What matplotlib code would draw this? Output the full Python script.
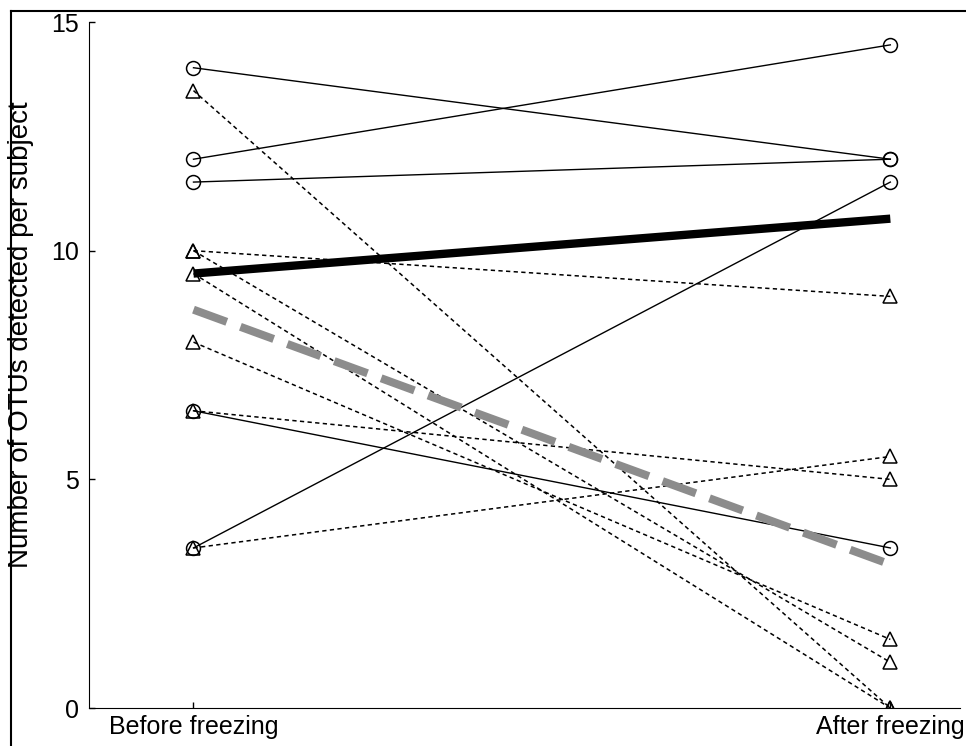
import matplotlib.pyplot as plt
from matplotlib.lines import Line2D

plt.rcParams["font.family"] = ["Liberation Sans", "DejaVu Sans"]

# stages on the x axis
stages = ["Before freezing", "After freezing"]
stage_x = [1, 2]

# subjects shown with circles (solid lines): (before, after)
circle_before = [14, 12, 11.5, 6.5, 3.5]
circle_after = [12, 14.5, 12, 3.5, 11.5]

# subjects shown with triangles (dotted lines): (before, after)
tri_before = [13.5, 10, 10, 9.5, 8, 6.5, 3.5]
tri_after = [0, 9, 1, 0, 1.5, 5, 5.5]

# group means
circle_mean = [9.5, 10.7]
tri_mean = [8.71, 3.14]

fig = plt.figure(figsize=(9.66, 7.46), dpi=100)
ax = fig.add_axes([0.0921, 0.0509, 0.9017, 0.9196])

for b, a in zip(circle_before, circle_after):
    ax.plot(stage_x, [b, a], color="black", lw=1.0, marker="o",
            markersize=10, markerfacecolor="none", markeredgecolor="black",
            markeredgewidth=1.1)

for b, a in zip(tri_before, tri_after):
    ax.plot(stage_x, [b, a], color="black", lw=1.1, linestyle=(0, (2.8, 2.2)),
            marker="^", markersize=10, markerfacecolor="none",
            markeredgecolor="black", markeredgewidth=1.1)

ax.plot(stage_x, circle_mean, color="black", lw=6, solid_capstyle="butt", zorder=5)
ax.plot(stage_x, tri_mean, color="0.55", lw=5.8, linestyle=(0, (4.4, 1.8)),
        dash_capstyle="butt", zorder=5)

ax.set_xlim(0.85, 2.1)
ax.set_ylim(0, 15)
ax.set_xticks(stage_x)
ax.set_xticklabels(stages)
ax.set_yticks([0, 5, 10, 15])
ax.tick_params(direction="in", length=4, width=1, labelsize=18)
ax.tick_params(axis="y", pad=7)
ax.tick_params(axis="x", pad=5)
ax.spines["top"].set_visible(False)
ax.spines["right"].set_visible(False)
ax.set_ylabel("Number of OTUs detected per subject", fontsize=20)
ax.yaxis.set_label_coords(-0.063, 0.544)

# frame around the figure (top and left edges)
fig.add_artist(Line2D([0.0114, 0.0114], [0, 0.9853], transform=fig.transFigure,
                      color="black", lw=1.5))
fig.add_artist(Line2D([0.0114, 1], [0.9853, 0.9853], transform=fig.transFigure,
                      color="black", lw=1.5))

plt.savefig("out.png", dpi=100)
